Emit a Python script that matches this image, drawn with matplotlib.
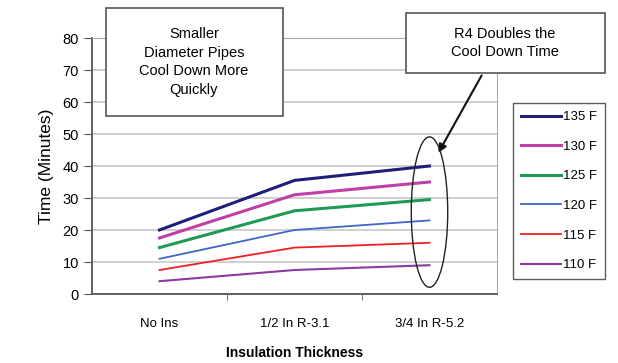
import matplotlib.pyplot as plt
from matplotlib.patches import Ellipse, Rectangle

plt.rcParams['font.family'] = ['Liberation Sans', 'DejaVu Sans']

categories = ['No Ins', '1/2 In R-3.1', '3/4 In R-5.2']
series_labels = ['135 F', '130 F', '125 F', '120 F', '115 F', '110 F']
t135 = [20, 35.5, 40]
t130 = [17.5, 31, 35]
t125 = [14.5, 26, 29.5]
t120 = [11, 20, 23]
t115 = [7.5, 14.5, 16]
t110 = [4, 7.5, 9]
series = [t135, t130, t125, t120, t115, t110]
colors = ['#1f1f7a', '#c040a8', '#1f9a55', '#3f66c8', '#f02020', '#8a3aa0']
widths = [2.2, 2.2, 2.2, 1.3, 1.3, 1.5]

W, H = 618, 363
fig = plt.figure(figsize=(W / 100, H / 100), dpi=100)
ax = fig.add_axes([92 / W, 1 - 294 / H, 405 / W, 256 / H])

x = list(range(len(categories)))
lines = []
for vals, lab, c, lw in zip(series, series_labels, colors, widths):
    ln, = ax.plot(x, vals, color=c, lw=lw, label=lab, zorder=3)
    lines.append(ln)

ax.set_xlim(-0.5, 2.5)
ax.set_ylim(0, 80)
ax.set_yticks(range(0, 81, 10))
ax.set_xticks(x)
ax.set_xticklabels(categories, fontsize=9.5)
ax.set_xticks([0.5, 1.5], minor=True)
ax.tick_params(axis='x', which='major', length=0, pad=17)
ax.tick_params(axis='x', which='minor', length=4, color='#555555', direction='out')
ax.tick_params(axis='y', length=6, color='#555555', labelsize=10.5)
ax.grid(axis='y', color='#c8c8c8', lw=1.2)
ax.set_axisbelow(True)
for s in ['top', 'right']:
    ax.spines[s].set_color('#aaaaaa')
for s in ['left', 'bottom']:
    ax.spines[s].set_color('#555555')
    ax.spines[s].set_linewidth(1.3)

ax.set_ylabel('Time (Minutes)', fontsize=12.5, labelpad=6)
ax.set_xlabel('Insulation Thickness', fontsize=10, fontweight='bold', labelpad=12)

# circled end values
ax.add_patch(Ellipse((2.0, 25.6), 0.27, 47, fill=False, ec='#222222', lw=1, zorder=4))

# text boxes
fig.patches.append(Rectangle((106 / W, 1 - 116 / H), 177 / W, 108 / H, transform=fig.transFigure,
                             facecolor='white', edgecolor='#555555', lw=1.2, zorder=5))
fig.text(194 / W, 1 - 62 / H, 'Smaller\nDiameter Pipes\nCool Down More\nQuickly', ha='center', va='center',
         fontsize=10.5, linespacing=1.45, zorder=6)
fig.patches.append(Rectangle((406 / W, 1 - 73 / H), 199 / W, 60 / H, transform=fig.transFigure,
                             facecolor='white', edgecolor='#555555', lw=1.2, zorder=5))
fig.text(505 / W, 1 - 43 / H, 'R4 Doubles the\nCool Down Time', ha='center', va='center',
         fontsize=10.5, linespacing=1.45, zorder=6)

ax.annotate('', xy=(2.056, 43.4), xycoords='data', xytext=(483, H - 73), textcoords='figure pixels',
            arrowprops=dict(arrowstyle='-|>', color='#111111', lw=1.5, mutation_scale=12),
            annotation_clip=False)

leg = fig.legend(handles=lines, loc='upper left', bbox_to_anchor=(513 / W, 1 - 103 / H), fontsize=9.5,
                 frameon=True, fancybox=False, edgecolor='#333333', handlelength=3.0, handletextpad=0.2,
                 labelspacing=1.32, borderpad=0.6, borderaxespad=0)
leg.get_frame().set_linewidth(1.0)

fig.savefig('out.png', dpi=100)
